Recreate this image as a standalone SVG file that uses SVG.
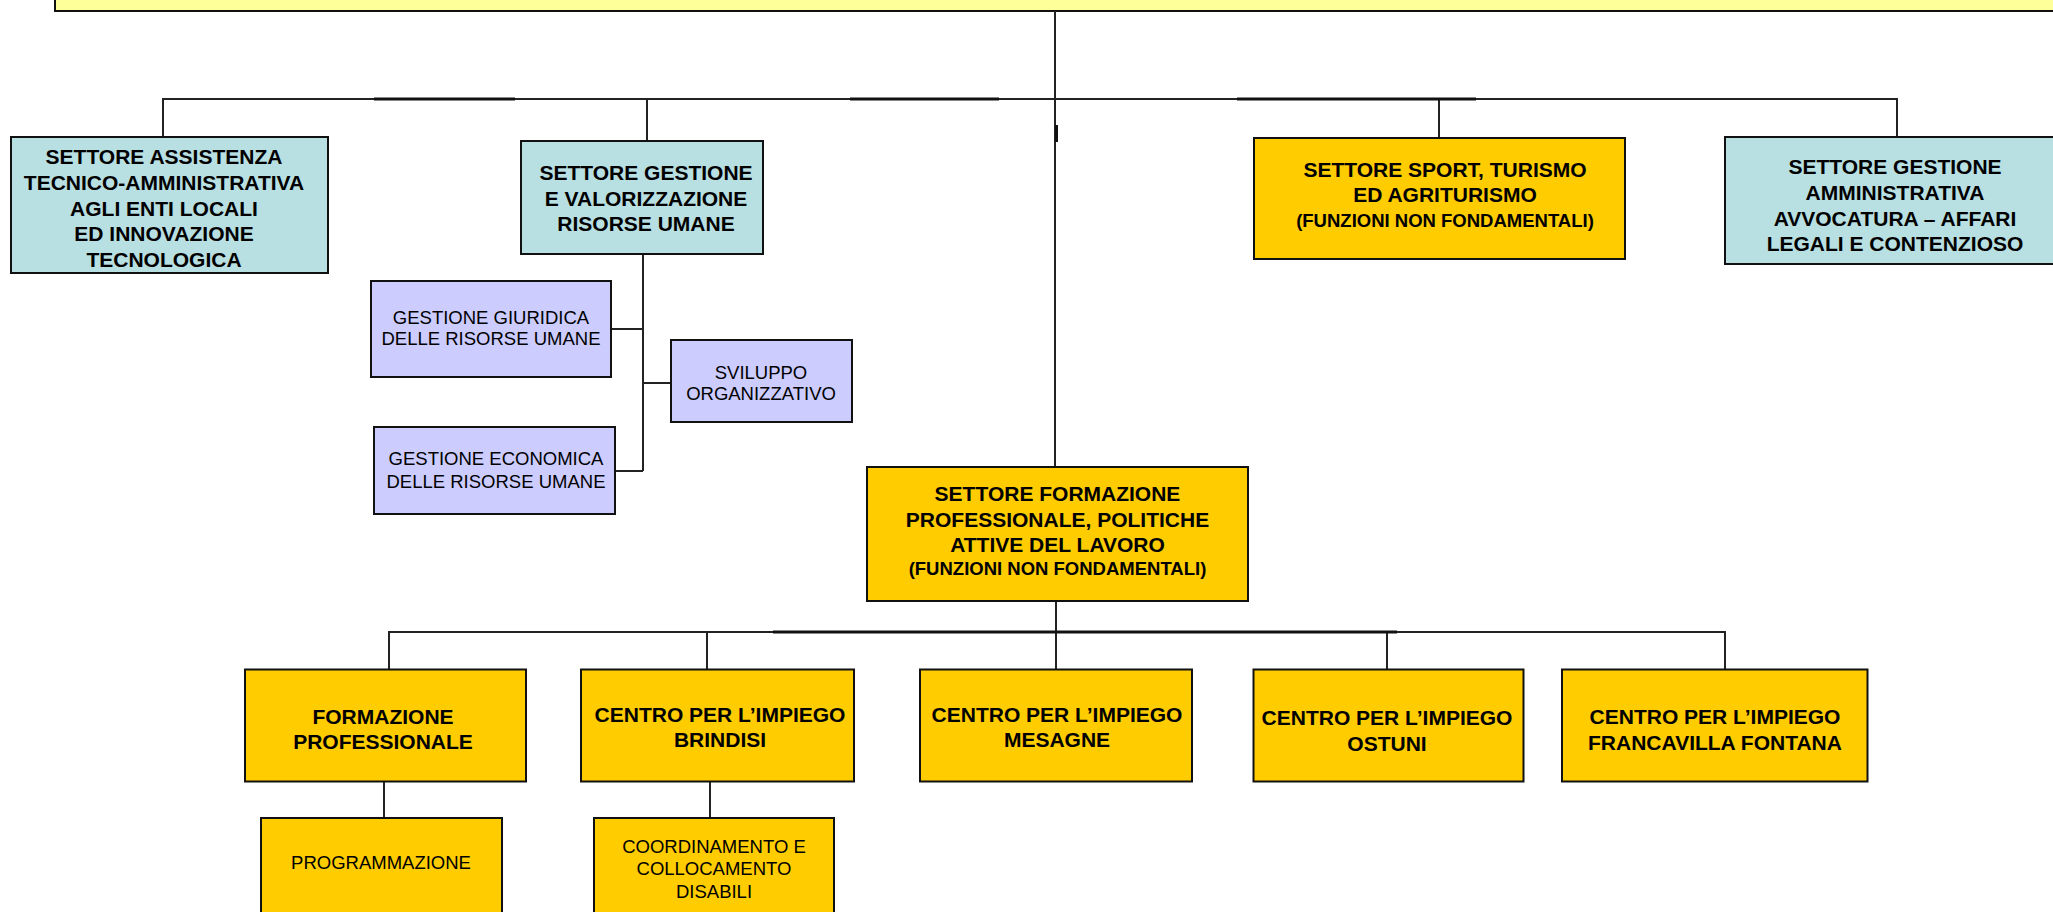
<svg xmlns="http://www.w3.org/2000/svg" width="2053" height="912" viewBox="0 0 2053 912">
<style>
.box{stroke:#111;stroke-width:2}
.top{fill:#FFFF99}
.blue{fill:#B8DFE2}
.purple{fill:#CCCCFF}
.gold{fill:#FFCC00}
.ln{stroke:#222;stroke-width:2;fill:none}
.thk{stroke:#111;stroke-width:3;fill:none}
text{font-family:"Liberation Sans",Arial,sans-serif;fill:#000;text-anchor:middle}
.b{font-weight:bold;font-size:21px}
.bs{font-weight:bold;font-size:18.5px}
.r{font-size:18.5px}
</style>
<rect width="2053" height="912" fill="#fff"/>
<g id="top"><rect class="box top" x="55" y="-20" width="2010" height="31"/></g>
<g id="connectors">
<path class="ln" d="M1055 11V467"/>
<path class="ln" d="M163 137V99H1897V137"/>
<path class="ln" d="M647 99V141"/>
<path class="ln" d="M1439 99V138"/>
<path class="thk" d="M374 99H515M850 99H999M1237 99H1476"/>
<path class="thk" d="M1056.5 125V142"/>
<path class="ln" d="M643 254V471M611 329H643M643 383H671M615 471H643"/>
<path class="ln" d="M1056 601V669M389 669V632H1725V669M707 632V669M1387 632V669"/>
<path class="thk" d="M773 632H1397"/>
<path class="ln" d="M384 782V818M710 782V818"/>
</g>
<g id="n-assistenza">
<rect class="box blue" x="11" y="137" width="317" height="136"/>
<text class="b" x="164" y="164">SETTORE ASSISTENZA</text>
<text class="b" x="164" y="190">TECNICO-AMMINISTRATIVA</text>
<text class="b" x="164" y="215.5">AGLI ENTI LOCALI</text>
<text class="b" x="164" y="241">ED INNOVAZIONE</text>
<text class="b" x="164" y="267">TECNOLOGICA</text>
</g>
<g id="n-risorse">
<rect class="box blue" x="521" y="141" width="242" height="113"/>
<text class="b" x="646" y="180">SETTORE GESTIONE</text>
<text class="b" x="646" y="205.5">E VALORIZZAZIONE</text>
<text class="b" x="646" y="230.5">RISORSE UMANE</text>
</g>
<g id="n-sport">
<rect class="box gold" x="1254" y="138" width="371" height="121"/>
<text class="b" x="1445" y="176.5">SETTORE SPORT, TURISMO</text>
<text class="b" x="1445" y="202">ED AGRITURISMO</text>
<text class="bs" x="1445" y="227">(FUNZIONI NON FONDAMENTALI)</text>
</g>
<g id="n-avvocatura">
<rect class="box blue" x="1725" y="137" width="345" height="127"/>
<text class="b" x="1895" y="173.5">SETTORE GESTIONE</text>
<text class="b" x="1895" y="199.5">AMMINISTRATIVA</text>
<text class="b" x="1895" y="225.5">AVVOCATURA – AFFARI</text>
<text class="b" x="1895" y="251">LEGALI E CONTENZIOSO</text>
</g>
<g id="n-giuridica">
<rect class="box purple" x="371" y="281" width="240" height="96"/>
<text class="r" x="491" y="323.5">GESTIONE GIURIDICA</text>
<text class="r" x="491" y="345">DELLE RISORSE UMANE</text>
</g>
<g id="n-sviluppo">
<rect class="box purple" x="671" y="340" width="181" height="82"/>
<text class="r" x="761" y="378.5">SVILUPPO</text>
<text class="r" x="761" y="399.5">ORGANIZZATIVO</text>
</g>
<g id="n-economica">
<rect class="box purple" x="374" y="427" width="241" height="87"/>
<text class="r" x="496" y="465">GESTIONE ECONOMICA</text>
<text class="r" x="496" y="487.5">DELLE RISORSE UMANE</text>
</g>
<g id="n-formazione-settore">
<rect class="box gold" x="867" y="467" width="381" height="134"/>
<text class="b" x="1057.5" y="501">SETTORE FORMAZIONE</text>
<text class="b" x="1057.5" y="526.5">PROFESSIONALE, POLITICHE</text>
<text class="b" x="1057.5" y="551.5">ATTIVE DEL LAVORO</text>
<text class="bs" x="1057.5" y="575">(FUNZIONI NON FONDAMENTALI)</text>
</g>
<g id="n-formazione">
<rect class="box gold" x="245" y="669.5" width="281" height="112"/>
<text class="b" x="383" y="723.5">FORMAZIONE</text>
<text class="b" x="383" y="748.5">PROFESSIONALE</text>
</g>
<g id="n-brindisi">
<rect class="box gold" x="581" y="669.5" width="273" height="112"/>
<text class="b" x="720" y="721.5">CENTRO PER L’IMPIEGO</text>
<text class="b" x="720" y="747">BRINDISI</text>
</g>
<g id="n-mesagne">
<rect class="box gold" x="920" y="669.5" width="272" height="112"/>
<text class="b" x="1057" y="721.5">CENTRO PER L’IMPIEGO</text>
<text class="b" x="1057" y="746.5">MESAGNE</text>
</g>
<g id="n-ostuni">
<rect class="box gold" x="1253.5" y="669.5" width="270" height="112"/>
<text class="b" x="1387" y="725">CENTRO PER L’IMPIEGO</text>
<text class="b" x="1387" y="750.5">OSTUNI</text>
</g>
<g id="n-francavilla">
<rect class="box gold" x="1562" y="669.5" width="305.5" height="112"/>
<text class="b" x="1715" y="724">CENTRO PER L’IMPIEGO</text>
<text class="b" x="1715" y="750">FRANCAVILLA FONTANA</text>
</g>
<g id="n-programmazione">
<rect class="box gold" x="261" y="818" width="241" height="120"/>
<text class="r" x="381" y="869">PROGRAMMAZIONE</text>
</g>
<g id="n-disabili">
<rect class="box gold" x="594" y="818" width="240" height="120"/>
<text class="r" x="714" y="852.5">COORDINAMENTO E</text>
<text class="r" x="714" y="875">COLLOCAMENTO</text>
<text class="r" x="714" y="897.5">DISABILI</text>
</g>
</svg>
